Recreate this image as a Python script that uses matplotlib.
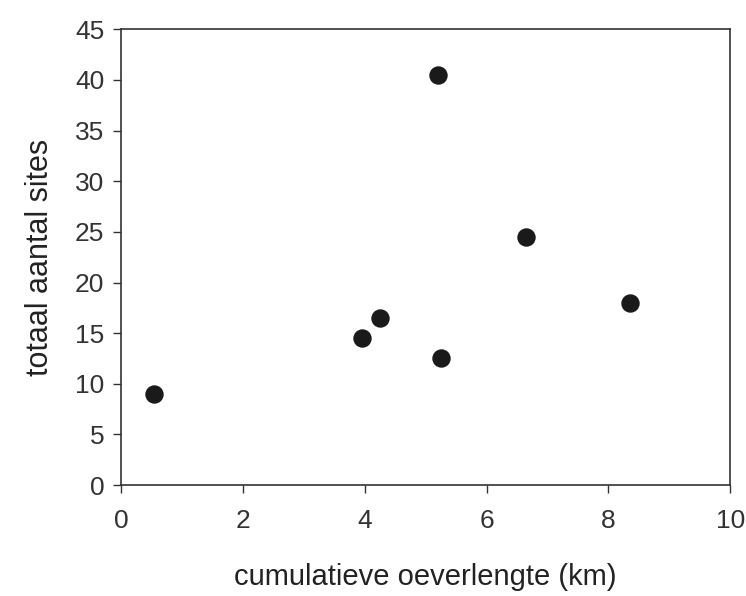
import matplotlib
matplotlib.use('Agg')
import matplotlib.pyplot as plt

# cumulatieve oeverlengte (km) vs totaal aantal sites
lengte = [0.55, 3.95, 4.25, 5.2, 5.25, 6.65, 8.35]
sites = [9, 14.5, 16.5, 40.5, 12.5, 24.5, 18]

plt.rcParams['font.family'] = ['Liberation Sans', 'DejaVu Sans']

fig = plt.figure(figsize=(7.46, 5.96), dpi=100)
ax = fig.add_axes([0.162, 0.186, 0.817, 0.765])

ax.scatter(lengte, sites, s=150, color='#1a1a1a', zorder=3)

ax.set_xlim(0, 10)
ax.set_ylim(0, 45)
ax.set_xticks(range(0, 11, 2))
ax.set_yticks(range(0, 46, 5))
ax.tick_params(direction='out', length=6, width=1, labelsize=19, colors='#333333', pad=6)
ax.tick_params(axis='x', pad=11)
for s in ax.spines.values():
    s.set_linewidth(1.2)
    s.set_color('#333333')

ax.set_xlabel('cumulatieve oeverlengte (km)', fontsize=21, color='#222222', labelpad=22)
ax.set_ylabel('totaal aantal sites', fontsize=22, color='#222222', labelpad=14)

fig.savefig('out.png', dpi=100)
